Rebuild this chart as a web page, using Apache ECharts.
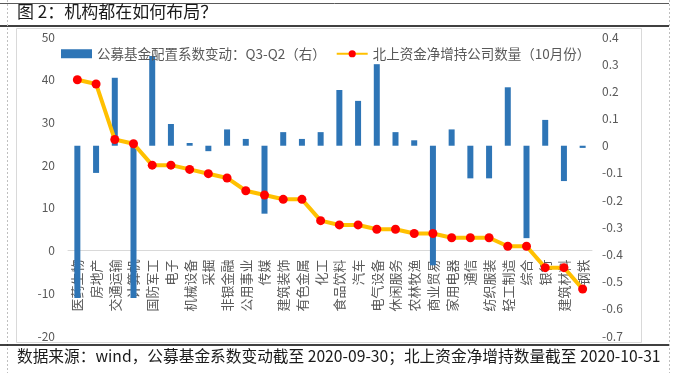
<!DOCTYPE html>
<html>
<head>
<meta charset="utf-8">
<script src="https://cdn.jsdelivr.net/npm/echarts@6/dist/echarts.min.js"></script>
<style>
html,body{margin:0;padding:0;background:#fff;}
#chart{width:678px;height:373px;}
</style>
</head>
<body>
<div id="chart"></div>
<script>
var categories = ['医药生物','房地产','交通运输','计算机','国防军工','电子','机械设备','采掘','非银金融','公用事业','传媒','建筑装饰','有色金属','化工','食品饮料','汽车','电气设备','休闲服务','农林牧渔','商业贸易','家用电器','通信','纺织服装','轻工制造','综合','银行','建筑材料','钢铁'];
var fundChange = [-0.56,-0.10,0.25,-0.56,0.33,0.08,0.01,-0.02,0.06,0.025,-0.25,0.05,0.025,0.05,0.205,0.165,0.30,0.05,0.02,-0.44,0.06,-0.12,-0.12,0.215,-0.34,0.095,-0.13,-0.008];
var northCount = [40,39,26,25,20,20,19,18,17,14,13,12,12,7,6,6,5,5,4,4,3,3,3,1,1,-4,-4,-9];
var seriesNames = ['公募基金配置系数变动：Q3-Q2（右）','北上资金净增持公司数量（10月份）'];
var titleText = '图 2：机构都在如何布局？';
var sourceText = '数据来源：wind，公募基金系数变动截至 2020-09-30；北上资金净增持数量截至 2020-10-31';

var LEFT_MIN = -20, LEFT_MAX = 50;
var GRID_TOP = 37, GRID_BOTTOM = 37, H = 373;
var plotH = H - GRID_TOP - GRID_BOTTOM;
var zeroOffset = -plotH * (0 - LEFT_MIN) / (LEFT_MAX - LEFT_MIN);

var FONT = '"Noto Sans CJK SC", "Noto Sans", sans-serif';
var chart = echarts.init(document.getElementById('chart'), null, {renderer:'canvas'});
chart.setOption({
  animation:false,
  backgroundColor:'#fff',
  textStyle:{fontFamily:FONT},
  grid:{left:68,right:86,top:GRID_TOP,bottom:GRID_BOTTOM,containLabel:false,outerBoundsMode:'none'},
  legend:{
    left:56, top:42, itemGap:10, itemWidth:31, itemHeight:9,
    textStyle:{fontSize:13.5,color:'#595959',fontFamily:FONT},
    data:[{name:seriesNames[0],icon:'rect'},{name:seriesNames[1]}]
  },
  xAxis:{
    type:'category', data:categories, position:'bottom', offset:zeroOffset,
    axisLine:{onZero:false,lineStyle:{color:'#d9d9d9',width:1}},
    axisTick:{show:false},
    axisLabel:{interval:0,rotate:90,margin:9,fontSize:13,color:'#595959',fontFamily:FONT,hideOverlap:false}
  },
  yAxis:[
    {type:'value',min:LEFT_MIN,max:LEFT_MAX,interval:10,position:'left',
     axisLine:{show:false},axisTick:{show:false},splitLine:{show:false},
     axisLabel:{margin:13,fontSize:12,color:'#595959',fontFamily:FONT}},
    {type:'value',min:-0.7,max:0.4,interval:0.1,position:'right',
     axisLine:{show:false},axisTick:{show:false},splitLine:{show:false},
     axisLabel:{margin:10,fontSize:12,color:'#595959',fontFamily:FONT,
       formatter:function(v){var r=Math.round(v*10)/10;return r===0?'0':r.toFixed(1);}}}
  ],
  series:[
    {name:seriesNames[0],type:'bar',yAxisIndex:1,data:fundChange,barWidth:6,
     itemStyle:{color:'#2E75B6'},z:2},
    {name:seriesNames[1],type:'line',yAxisIndex:0,data:northCount,
     lineStyle:{color:'#FFC000',width:4},itemStyle:{color:'#FF0000'},
     symbol:'circle',symbolSize:9,z:3}
  ],
  graphic:[
    {type:'line',shape:{x1:0,y1:3.5,x2:669,y2:3.5},style:{stroke:'#595959',lineWidth:1},silent:true},
    {type:'text',left:17,top:3,style:{text:titleText,fontSize:17,fill:'#1a1a1a',fontFamily:FONT}},
    {type:'line',shape:{x1:0,y1:26,x2:669,y2:26},style:{stroke:'#000',lineWidth:1.5},silent:true},
    {type:'rect',shape:{x:16.5,y:28.5,width:625,height:314},style:{fill:'none',stroke:'#d9d9d9',lineWidth:1},silent:true,z:-1},
    {type:'line',shape:{x1:7.5,y1:0,x2:7.5,y2:373},style:{stroke:'#bfbfbf',lineWidth:1,lineDash:[2,2]},silent:true},
    {type:'line',shape:{x1:669.5,y1:0,x2:669.5,y2:373},style:{stroke:'#bfbfbf',lineWidth:1,lineDash:[2,2]},silent:true},
    {type:'line',shape:{x1:0,y1:345,x2:669,y2:345},style:{stroke:'#000',lineWidth:1.5},silent:true},
    {type:'text',left:17,top:348,style:{text:sourceText,fontSize:15.7,fill:'#1a1a1a',fontFamily:FONT}}
  ]
});
</script>
</body>
</html>
